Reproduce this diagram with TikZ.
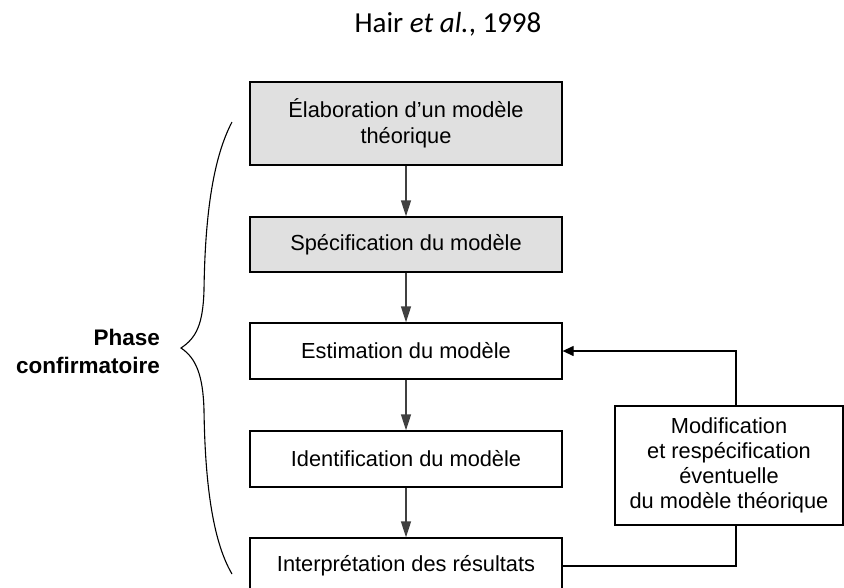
\documentclass[tikz,border=0pt]{standalone}
\usepackage{fontspec}
\setmainfont{Liberation Sans}
\newfontfamily\calibri{Carlito}
\usetikzlibrary{arrows.meta,calc}
\tikzset{
  box/.style={draw=black, line width=1.3pt, minimum width=312pt, inner sep=0pt, align=center,
    font=\fontsize{21.8}{26}\selectfont},
  graybox/.style={box, fill=black!12},
  flow/.style={draw=black!75, line width=1.3pt, -{Triangle[length=16pt,width=10pt]}},
  back/.style={draw=black, line width=1.3pt},
}
\begin{document}
\begin{tikzpicture}[x=1pt,y=-1pt]
\useasboundingbox (0,0) rectangle (844,587);
\clip (0,0) rectangle (844,587);
\node[font=\calibri\fontsize{29}{34}\selectfont, anchor=base, inner sep=0pt] (title) at (448,32) {Hair \textit{et al.}, 1998};
\node[graybox, minimum height=83pt] (elab) at (406,123.5) {Élaboration d’un modèle\\théorique};
\node[graybox, minimum height=55pt] (spec) at (406,244.5) {Spécification du modèle};
\node[box, minimum height=56pt] (esti) at (406,351) {Estimation du modèle};
\node[box, minimum height=56pt] (iden) at (406,459) {Identification du modèle};
\node[box, minimum height=56pt] (inter) at (406,566) {Interprétation des résultats};
\node[box, minimum width=228pt, minimum height=119pt, font=\fontsize{21.8}{25}\selectfont] (modi) at (729,465.5) {Modification\\et respécification\\éventuelle\\du modèle théorique};
\node[font=\bfseries\fontsize{22.5}{28}\selectfont, align=right, anchor=east, inner sep=0pt] (phase) at (160,351) {Phase\\confirmatoire};
\draw[flow] (elab) -- (spec);
\draw[flow] (spec) -- (esti);
\draw[flow] (esti) -- (iden);
\draw[flow] (iden) -- (inter);
\coordinate (fb) at (736,0);
\draw[back] (inter.east) -| (fb |- modi.south);
\draw[back, -{Triangle[length=11pt,width=10pt]}] (fb |- modi.north) |- (esti.east);
\draw[line width=1.1pt] (232,122) .. controls (212,160) and (205,220) .. (204,290)
  .. controls (203,325) and (196,338) .. (181,348)
  .. controls (196,358) and (203,375) .. (204,410)
  .. controls (205,480) and (212,540) .. (232,574);
\end{tikzpicture}
\end{document}
